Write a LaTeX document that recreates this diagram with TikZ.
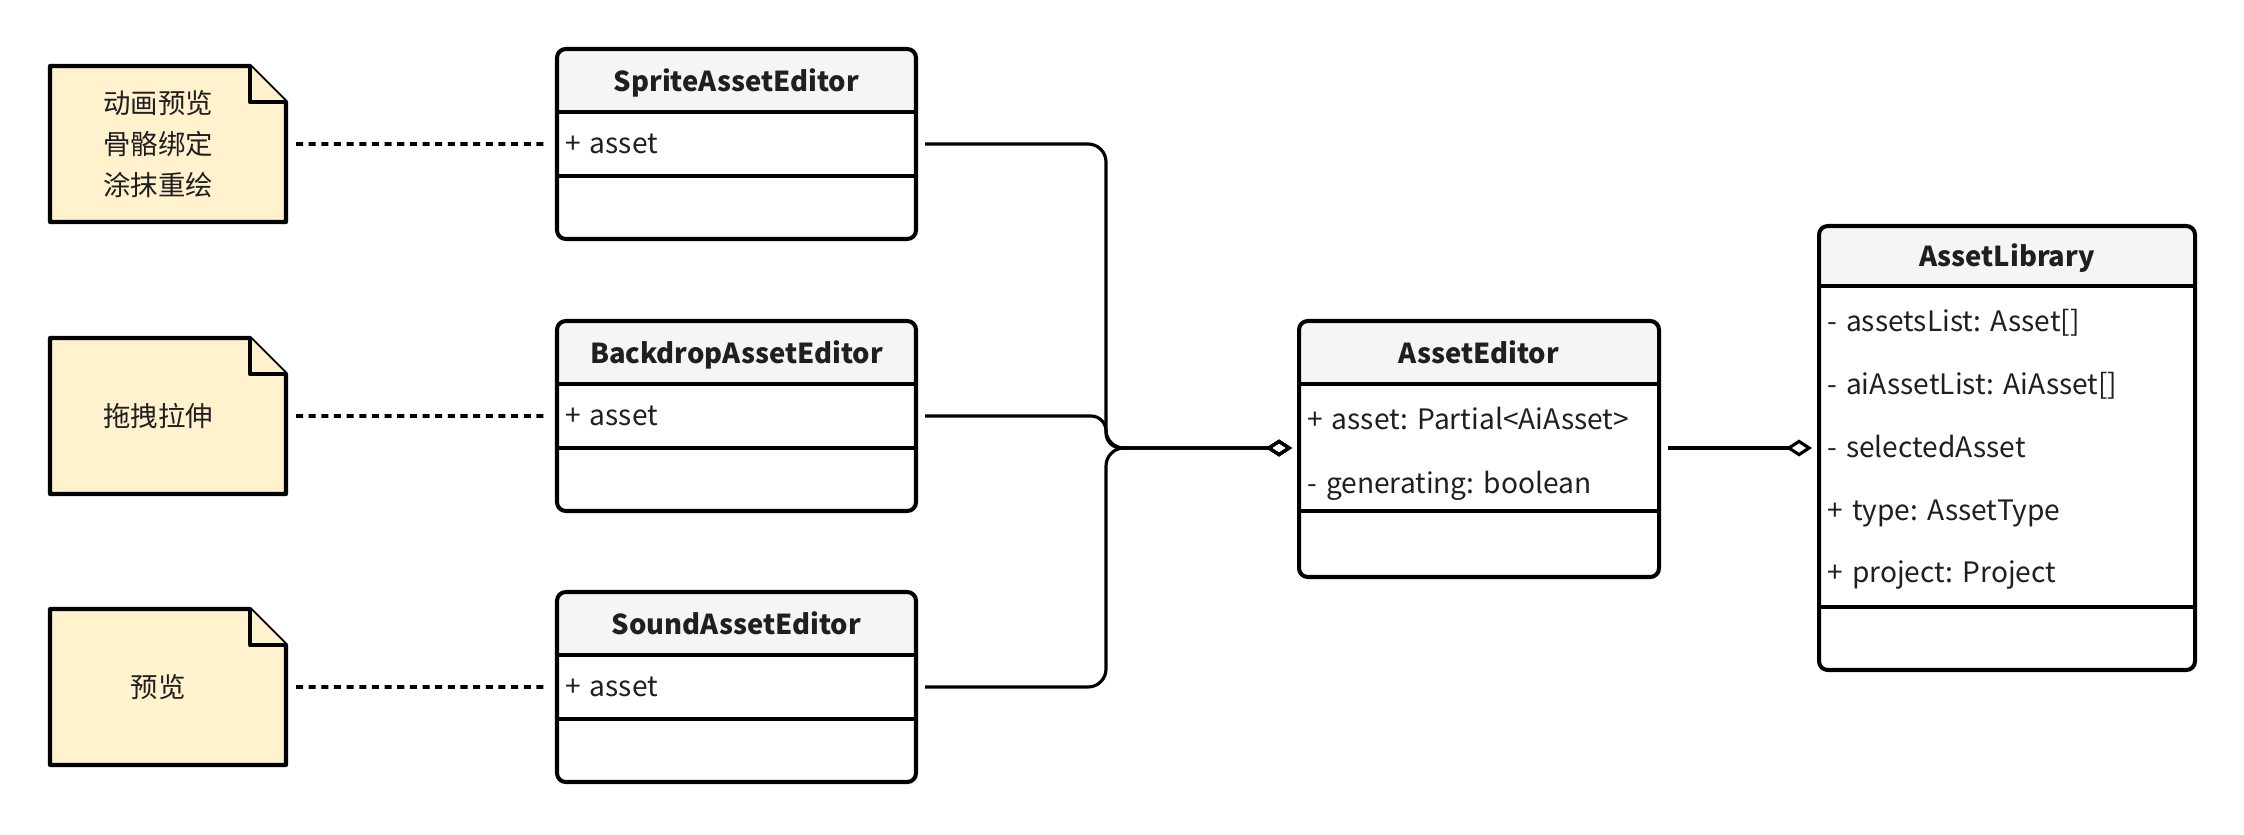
\documentclass[tikz,border=0pt]{standalone}
\usepackage{fontspec}
\setmainfont{Noto Sans CJK SC}
\usetikzlibrary{arrows.meta, positioning, calc, backgrounds}
\frenchspacing
\hyphenpenalty=10000
\exhyphenpenalty=10000
\definecolor{mytext}{RGB}{30,30,35}
\definecolor{hdrgray}{RGB}{245,245,245}
\definecolor{noteyellow}{RGB}{255,242,204}
\tikzset{
  clshead/.style={minimum width=#1, minimum height=0.63cm, inner sep=0pt, outer sep=0pt,
    text height=6pt, text depth=0pt, font=\fontsize{7.8}{10}\selectfont\bfseries, text=mytext},
  clsattr/.style={text width=#1, align=left, inner xsep=0.08cm, inner ysep=0pt, outer sep=0pt,
    minimum height=0.64cm, font=\fontsize{8}{18}\selectfont, text=mytext},
  clsmeth/.style={minimum width=#1, minimum height=0.63cm, inner sep=0pt, outer sep=0pt},
  notebox/.style={minimum width=2.16cm, minimum height=1.56cm, align=center, inner sep=0pt,
    outer sep=0pt, font=\fontsize{7.8}{11.7}\selectfont, text=mytext},
  notepaper/.style={fill=noteyellow, draw=black, line width=1.15pt, line join=round},
  frame/.style={line width=1.15pt, rounded corners=2.5pt},
  sep/.style={line width=1.15pt},
  assoc/.style={line width=0.9pt, rounded corners=0.18cm, shorten <=0.09cm, shorten >=0.07cm,
    -{Diamond[open, length=0.26cm, width=0.17cm, line width=0.9pt]}},
  dep/.style={line width=1pt, dash pattern=on 2pt off 1.6pt, shorten <=0.3cm, shorten >=0.13cm}
}

\begin{document}
\begin{tikzpicture}
  \useasboundingbox (0,0) rectangle (22.44,8.34);

  % notes (the paper reaches 0.2 past the east anchor)
  \node[notebox] (note1) at (1.58,6.90) {动画预览\\骨骼绑定\\涂抹重绘};
  \node[notebox] (note2) at (1.58,4.18) {拖拽拉伸};
  \node[notebox] (note3) at (1.58,1.47) {预览};

  % editors
  \node[clshead=3.59cm] (sprite) at (7.365,7.535) {SpriteAssetEditor};
  \node[clsattr=3.43cm, below=0pt of sprite] (sprite-attr) {+ asset};
  \node[clsmeth=3.59cm, below=0pt of sprite-attr] (sprite-meth) {};

  \node[clshead=3.59cm] (backdrop) at (7.365,4.815) {BackdropAssetEditor};
  \node[clsattr=3.43cm, below=0pt of backdrop] (backdrop-attr) {+ asset};
  \node[clsmeth=3.59cm, below=0pt of backdrop-attr] (backdrop-meth) {};

  \node[clshead=3.59cm] (sound) at (7.365,2.105) {SoundAssetEditor};
  \node[clsattr=3.43cm, below=0pt of sound] (sound-attr) {+ asset};
  \node[clsmeth=3.59cm, below=0pt of sound-attr] (sound-meth) {};

  % base editor
  \node[clshead=3.60cm] (editor) at (14.79,4.815) {AssetEditor};
  \node[clsattr=3.44cm, minimum height=1.27cm, below=0pt of editor,
    font=\fontsize{8}{18.4}\selectfont] (editor-attr)
    {\rule{0pt}{10pt}+ asset: Partial<AiAsset>\\- generating: boolean};
  \node[clsmeth=3.60cm, minimum height=0.66cm, below=0pt of editor-attr] (editor-meth) {};

  % library
  \node[clshead=3.76cm, minimum height=0.60cm] (library) at (20.07,5.78) {AssetLibrary};
  \node[clsattr=3.60cm, minimum height=3.21cm, below=0pt of library,
    font=\fontsize{8}{17.9}\selectfont] (library-attr)
    {\rule{0pt}{8pt}- assetsList: Asset[]\\- aiAssetList: AiAsset[]\\- selectedAsset\\+ type: AssetType\\+ project: Project};
  \node[clsmeth=3.76cm, below=0pt of library-attr] (library-meth) {};

  \begin{scope}[on background layer]
    \foreach \n in {note1,note2,note3} {
      \filldraw[notepaper] (\n.south west) -- (\n.north west) -- ($(\n.north east)+(-0.16,0)$)
        -- ($(\n.north east)+(0.2,-0.36)$) -- ($(\n.south east)+(0.2,0)$) -- cycle;
      \draw[notepaper] ($(\n.north east)+(-0.16,0)$) |- ($(\n.north east)+(0.2,-0.36)$);
    }
    \foreach \c in {sprite,backdrop,sound,editor,library} {
      \fill[hdrgray, rounded corners=2.5pt] (\c.north west) rectangle (\c.south east);
      \fill[hdrgray] (\c.west) rectangle (\c.south east);
    }
  \end{scope}

  \foreach \c in {sprite,backdrop,sound,editor,library} {
    \draw[frame] (\c.north west) rectangle (\c-meth.south east);
    \draw[sep] (\c.south west) -- (\c.south east);
    \draw[sep] (\c-attr.south west) -- (\c-attr.south east);
  }

  % connectors
  \foreach \n/\c in {note1/sprite,note2/backdrop,note3/sound}
    \draw[dep] (\n.east) -- (\c-attr.west);

  \coordinate (join) at (11.06,3.86);
  \draw[assoc] (sprite-attr.east) -| (join) -- (join -| editor.west);
  \draw[assoc, rounded corners=0.15cm] (backdrop-attr.east) -| (join) -- (join -| editor.west);
  \draw[assoc] (sound-attr.east) -| (join) -- (join -| editor.west);
  \draw[assoc] (join -| editor.east) -- (join -| library.west);
\end{tikzpicture}
\end{document}
